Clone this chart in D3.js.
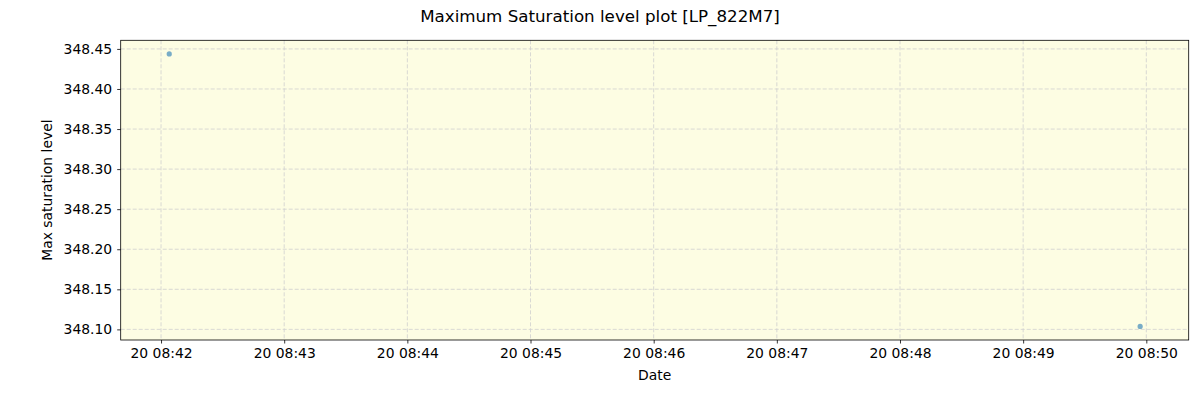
<!DOCTYPE html>
<html>
<head>
<meta charset="UTF-8">
<script src="https://cdnjs.cloudflare.com/ajax/libs/d3/7.8.5/d3.min.js"></script>
<style>
  body { margin: 0; background: #fff; }
  svg text { font-family: "DejaVu Sans", sans-serif; fill: #000; }
</style>
</head>
<body>
<div id="chart"></div>
<script>
// data
var times = ['2023-01-20T08:42:04', '2023-01-20T08:49:57'];
var levels = [348.44375, 348.10375];
var yTicks = [348.10, 348.15, 348.20, 348.25, 348.30, 348.35, 348.40, 348.45];

var W = 1200, H = 400;
var m = { left: 120.7, right: 1200 - 1188.7, top: 40.3, bottom: 400 - 340 };
var w = W - m.left - m.right, h = H - m.top - m.bottom;

var parse = d3.timeParse('%Y-%m-%dT%H:%M:%S');
var dates = times.map(parse);

var svg = d3.select('#chart').append('svg')
  .attr('width', W).attr('height', H);

// matplotlib-like 5% padding
var xExt = d3.extent(dates), xPad = (xExt[1] - xExt[0]) * 0.05;
var x = d3.scaleTime()
  .domain([new Date(+xExt[0] - xPad), new Date(+xExt[1] + xPad)])
  .range([0, w]);
var yExt = d3.extent(levels), yPad = (yExt[1] - yExt[0]) * 0.05;
var y = d3.scaleLinear()
  .domain([yExt[0] - yPad, yExt[1] + yPad])
  .range([h, 0]);

var g = svg.append('g').attr('transform', 'translate(' + m.left + ',' + m.top + ')');

g.append('rect').attr('width', w).attr('height', h).attr('fill', '#fdfde3');

var xTicks = d3.timeMinute.range(d3.timeMinute.ceil(x.domain()[0]), x.domain()[1]);

// grid
g.selectAll('.vg').data(xTicks).enter().append('line')
  .attr('x1', d => x(d)).attr('x2', d => x(d))
  .attr('y1', 0).attr('y2', h)
  .attr('stroke', '#cfcfcf').attr('stroke-width', 0.8).attr('stroke-dasharray', '4,2');
g.selectAll('.hg').data(yTicks).enter().append('line')
  .attr('x1', 0).attr('x2', w)
  .attr('y1', d => y(d)).attr('y2', d => y(d))
  .attr('stroke', '#cfcfcf').attr('stroke-width', 0.8).attr('stroke-dasharray', '4,2');

// points
g.selectAll('circle').data(levels).enter().append('circle')
  .attr('cx', (d, i) => x(dates[i]))
  .attr('cy', d => y(d))
  .attr('r', 2.6)
  .attr('fill', '#1f77b4').attr('fill-opacity', 0.6);

// axes
var xAxis = g.append('g').attr('transform', 'translate(0,' + h + ')')
  .call(d3.axisBottom(x).tickValues(xTicks).tickFormat(d3.timeFormat('%d %H:%M')).tickSizeOuter(0).tickSize(3.5).tickPadding(5));
var yAxis = g.append('g')
  .call(d3.axisLeft(y).tickValues(yTicks).tickFormat(d3.format('.2f')).tickSizeOuter(0).tickSize(3.5).tickPadding(5));
[xAxis, yAxis].forEach(function (a) {
  a.select('.domain').remove();
  a.selectAll('line').attr('stroke', '#000').attr('stroke-width', 0.8);
  a.selectAll('text').style('font-size', '13.9px').style('font-family', '"DejaVu Sans", sans-serif');
});

g.append('rect').attr('width', w).attr('height', h)
  .attr('fill', 'none').attr('stroke', '#000').attr('stroke-width', 0.8);

// labels
svg.append('text').attr('x', 600).attr('y', 22).attr('text-anchor', 'middle')
  .style('font-size', '16.7px').text('Maximum Saturation level plot [LP_822M7]');
svg.append('text').attr('x', m.left + w / 2).attr('y', 380).attr('text-anchor', 'middle')
  .style('font-size', '13.9px').text('Date');
svg.append('text').attr('transform', 'translate(52,' + (m.top + h / 2) + ') rotate(-90)')
  .attr('text-anchor', 'middle').style('font-size', '13.9px').text('Max saturation level');
</script>
</body>
</html>
